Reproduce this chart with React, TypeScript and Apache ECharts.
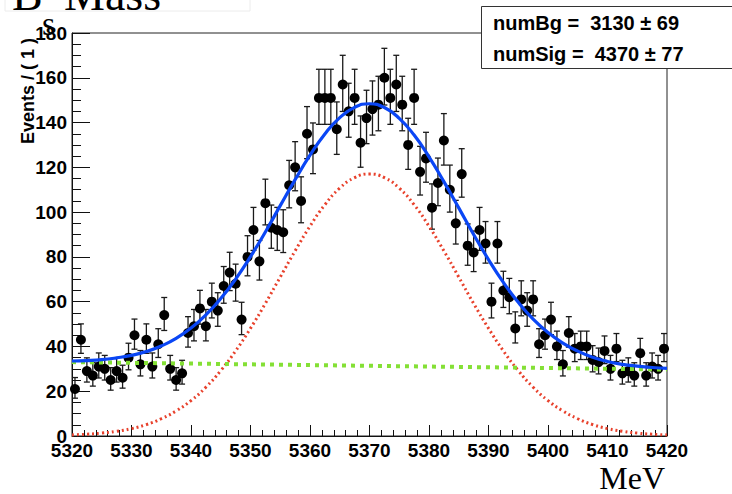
import React, { useEffect, useRef } from "react";
import * as echarts from "echarts";

// Bin centers (1 MeV bins from 5320 to 5420)
const massBins: number[] = Array.from({ length: 100 }, (_, i) => 5320.5 + i);

// Events per bin
const counts: number[] = [
  21, 43, 29, 27, 31, 30, 25, 29, 26, 35,
  45, 32, 43, 31, 41, 54, 30, 25, 28, 46,
  49, 57, 49, 60, 56, 67, 73, 68, 52, 80,
  92, 78, 104, 93, 92, 91, 112, 120, 105, 135,
  128, 151, 151, 151, 137, 157, 145, 151, 131, 142,
  146, 148, 160, 151, 157, 148, 130, 151, 118, 124,
  102, 113, 132, 110, 95, 117, 85, 82, 92, 86,
  60, 86, 65, 62, 48, 61, 56, 61, 41, 45,
  52, 40, 32, 46, 39, 40, 40, 34, 33, 38,
  30, 39, 28, 29, 27, 37, 27, 31, 30, 39,
];

const curveMass: number[] = Array.from({ length: 41 }, (_, i) => 5320 + 2.5 * i);
const totalPdf: number[] = [
  33.5, 33.7, 34.1, 34.9, 36.0, 37.7, 40.2, 43.6, 48.2, 54.1,
  61.4, 70.1, 80.1, 91.1, 102.9, 114.5, 125.4, 134.9, 142.2, 146.8,
  148.4, 146.7, 141.9, 134.4, 124.7, 113.6, 101.9, 90.0, 78.8, 68.6,
  59.7, 52.2, 46.2, 41.5, 37.9, 35.2, 33.3, 32.0, 31.2, 30.6, 30.2,
];
const signalPdf: number[] = [
  0.5, 0.8, 1.3, 2.1, 3.3, 5.1, 7.7, 11.2, 15.8, 21.8,
  29.2, 38.0, 48.1, 59.2, 71.0, 82.7, 93.7, 103.3, 110.7, 115.4,
  117.0, 115.4, 110.7, 103.3, 93.7, 82.7, 71.0, 59.2, 48.1, 38.0,
  29.2, 21.8, 15.8, 11.2, 7.7, 5.1, 3.3, 2.1, 1.3, 0.8, 0.5,
];
const bgMass: number[] = [5320, 5420];
const bgPdf: number[] = [33.0, 29.7];

const xTicks = { min: 5320, max: 5420, step: 10 };
const yTicks = { min: 0, max: 180, step: 20 };

const legendLines: string[] = ["numBg =\u00a0 3130 \u00b1 69", "numSig =\u00a0 4370 \u00b1 77"];

const SANS = '"Liberation Sans", Arial, sans-serif';
const SERIF = '"Liberation Serif", "Times New Roman", serif';

export default function App() {
  const ref = useRef<HTMLDivElement>(null);

  useEffect(() => {
    if (!ref.current) return;
    const chart = echarts.init(ref.current, undefined, { renderer: "svg" });

    const points = massBins.map((m, i) => [m, counts[i]]);

    const option: any = {
      animation: false,
      backgroundColor: "#ffffff",
      grid: {
        left: 72,
        right: 65,
        top: 33,
        bottom: 58,
        show: true,
        borderColor: "#222",
        borderWidth: 1,
        backgroundColor: "transparent",
      },
      xAxis: {
        type: "value",
        min: xTicks.min,
        max: xTicks.max,
        interval: xTicks.step,
        axisLine: { show: true, lineStyle: { color: "#111", width: 1 } },
        axisTick: { show: true, inside: true, length: 11, lineStyle: { color: "#111" } },
        minorTick: { show: true, splitNumber: 5, length: 6, lineStyle: { color: "#111" } },
        splitLine: { show: false },
        axisLabel: {
          color: "#000",
          fontSize: 19,
          fontWeight: "bold",
          fontFamily: SANS,
          margin: 5,
          formatter: (v: number) => String(v),
        },
      },
      yAxis: {
        type: "value",
        min: yTicks.min,
        max: yTicks.max,
        interval: yTicks.step,
        axisLine: { show: true, lineStyle: { color: "#111", width: 1 } },
        axisTick: { show: true, inside: true, length: 18, lineStyle: { color: "#111" } },
        minorTick: { show: true, splitNumber: 4, length: 9, lineStyle: { color: "#111" } },
        splitLine: { show: false },
        axisLabel: {
          color: "#000",
          fontSize: 19,
          fontWeight: "bold",
          fontFamily: SANS,
          margin: 5,
          formatter: (v: number) => String(v),
        },
      },
      series: [
        {
          type: "custom",
          name: "errors",
          z: 2,
          data: points,
          renderItem: (params: any, api: any) => {
            const x = api.value(0);
            const n = api.value(1);
            const r = Math.sqrt(n + 0.25);
            const hi = api.coord([x, n + 0.5 + r]);
            const lo = api.coord([x, n + 0.5 - r]);
            const cap = 3;
            const st = { stroke: "#1a1a1a", lineWidth: 1.3 };
            return {
              type: "group",
              children: [
                { type: "line", shape: { x1: hi[0], y1: hi[1], x2: lo[0], y2: lo[1] }, style: st },
                { type: "line", shape: { x1: hi[0] - cap, y1: hi[1], x2: hi[0] + cap, y2: hi[1] }, style: st },
                { type: "line", shape: { x1: lo[0] - cap, y1: lo[1], x2: lo[0] + cap, y2: lo[1] }, style: st },
              ],
            };
          },
        },
        {
          type: "scatter",
          name: "data",
          z: 3,
          data: points,
          symbol: "circle",
          symbolSize: 10,
          itemStyle: { color: "#000", opacity: 1 },
        },
        {
          type: "line",
          name: "signal",
          z: 4,
          data: curveMass.map((m, i) => [m, signalPdf[i]]),
          smooth: true,
          showSymbol: false,
          lineStyle: { color: "#e8412c", width: 3, type: [2, 3] },
        },
        {
          type: "line",
          name: "background",
          z: 4,
          data: bgMass.map((m, i) => [m, bgPdf[i]]),
          showSymbol: false,
          lineStyle: { color: "#84e035", width: 4, type: [4, 5] },
        },
        {
          type: "line",
          name: "total",
          z: 5,
          data: curveMass.map((m, i) => [m, totalPdf[i]]),
          smooth: true,
          showSymbol: false,
          lineStyle: { color: "#0a46f5", width: 3.2 },
        },
      ],
      graphic: [
        {
          type: "rect",
          z: 10,
          shape: { x: 5, y: -30, width: 245, height: 41 },
          style: { fill: "none", stroke: "#ececec", lineWidth: 1 },
        },
        {
          type: "text",
          z: 11,
          x: 12,
          y: -6,
          style: { text: "B", font: `46px ${SERIF}`, fill: "#000", textAlign: "left", textVerticalAlign: "middle" },
        },
        {
          type: "text",
          z: 30,
          x: 42,
          y: 23,
          style: { text: "s", font: `34px ${SERIF}`, fill: "#000", textAlign: "left", textVerticalAlign: "middle" },
        },
        {
          type: "text",
          z: 11,
          x: 64,
          y: -6,
          style: { text: "Mass", font: `46px ${SERIF}`, fill: "#000", textAlign: "left", textVerticalAlign: "middle" },
        },
        {
          type: "rect",
          z: 20,
          shape: { x: 481.5, y: 6.5, width: 270, height: 62 },
          style: { fill: "#ffffff", stroke: "#333", lineWidth: 1 },
        },
        {
          type: "text",
          z: 21,
          x: 493,
          y: 23,
          style: { text: legendLines[0], font: `bold 20px ${SANS}`, fill: "#000", textAlign: "left", textVerticalAlign: "middle" },
        },
        {
          type: "text",
          z: 21,
          x: 493,
          y: 54,
          style: { text: legendLines[1], font: `bold 20px ${SANS}`, fill: "#000", textAlign: "left", textVerticalAlign: "middle" },
        },
        {
          type: "text",
          z: 21,
          x: 28,
          y: 38,
          rotation: Math.PI / 2,
          style: { text: "Events / ( 1 )", font: `bold 18px ${SANS}`, fill: "#000", textAlign: "right", textVerticalAlign: "middle" },
        },
        {
          type: "text",
          z: 21,
          x: 665,
          y: 478,
          style: { text: "MeV", font: `32px ${SERIF}`, fill: "#000", textAlign: "right", textVerticalAlign: "middle" },
        },
      ],
    };

    chart.setOption(option);
    return () => chart.dispose();
  }, []);

  return <div ref={ref} style={{ width: 732, height: 494, position: "absolute", left: 0, top: 0 }} />;
}
